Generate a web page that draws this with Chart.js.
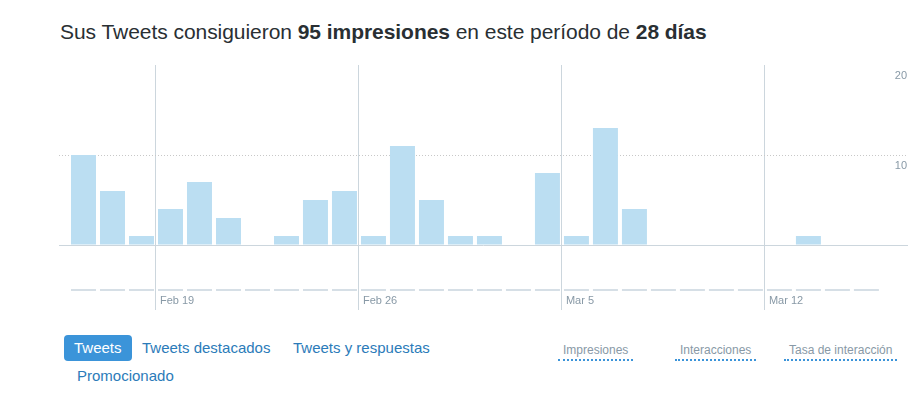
<!DOCTYPE html>
<html>
<head>
<meta charset="utf-8">
<script src="https://cdn.jsdelivr.net/npm/chart.js@4.4.1/dist/chart.umd.min.js"></script>
<style>
  html, body { margin: 0; padding: 0; background: #fff; }
  body { width: 916px; height: 397px; position: relative; overflow: hidden;
         font-family: "Liberation Sans", Arial, sans-serif; }
  #chart-box { position: absolute; left: 0; top: 0; width: 916px; height: 320px; }
  .title { position: absolute; left: 60px; top: 20px; font-size: 21px; line-height: 24px;
           color: #292f33; white-space: nowrap; letter-spacing: -0.05px; }
  .title b { font-weight: bold; }
  .tab { position: absolute; font-size: 15px; line-height: 26px; height: 26px; color: #2b7bb9;
         white-space: nowrap; }
  .tab.active { background: #3b94d9; color: #fff; border-radius: 4px; padding: 0 10px; }
  .metric { position: absolute; top: 343px; font-size: 12px; line-height: 14px; color: #8899a6;
            padding: 0 5px 2px 5px; border-bottom: 2px dotted #3b94d9; white-space: nowrap; }
</style>
</head>
<body>
<div class="title">Sus Tweets consiguieron <b>95 impresiones</b> en este período de <b>28 días</b></div>
<div id="chart-box"><canvas id="impressionsChart" width="916" height="320"></canvas></div>
<div class="tab active" style="left:64px;top:335px;">Tweets</div>
<div class="tab" style="left:142px;top:335px;">Tweets destacados</div>
<div class="tab" style="left:293px;top:335px;">Tweets y respuestas</div>
<div class="tab" style="left:77px;top:363px;">Promocionado</div>
<div class="metric" style="left:558px;">Impresiones</div>
<div class="metric" style="left:675px;">Interacciones</div>
<div class="metric" style="left:784px;">Tasa de interacción</div>

<script>
const days = [
  "Feb 16", "Feb 17", "Feb 18", "Feb 19", "Feb 20", "Feb 21", "Feb 22",
  "Feb 23", "Feb 24", "Feb 25", "Feb 26", "Feb 27", "Feb 28", "Mar 1",
  "Mar 2", "Mar 3", "Mar 4", "Mar 5", "Mar 6", "Mar 7", "Mar 8",
  "Mar 9", "Mar 10", "Mar 11", "Mar 12", "Mar 13", "Mar 14", "Mar 15",
];
const impressions = [
  10, 6, 1, 4, 7, 3, 0,
  1, 5, 6, 1, 11, 5, 1,
  1, 0, 8, 1, 13, 4, 0,
  0, 0, 0, 0, 1, 0, 0,
];
const promoted = [
  0, 0, 0, 0, 0, 0, 0,
  0, 0, 0, 0, 0, 0, 0,
  0, 0, 0, 0, 0, 0, 0,
  0, 0, 0, 0, 0, 0, 0,
];
const dateTicks = ["Feb 19", "Feb 26", "Mar 5", "Mar 12"];
const yTicks = [10, 20];

Chart.defaults.font.family = '"Liberation Sans", Arial, sans-serif';

function renderChart() {
  const barStyle = {
    grouped: false,
    categoryPercentage: 1,
    barPercentage: 25 / 29,
  };
  const config = {
    type: "bar",
    data: {
      datasets: [
        {
          label: "Impresiones",
          data: impressions.map((v, i) => ({ x: i, y: v })),
          backgroundColor: "#bbdef2",
          yAxisID: "y",
          ...barStyle,
        },
        {
          label: "Promocionado",
          data: promoted.map((v, i) => ({ x: i, y: v })),
          backgroundColor: "#d6dfe6",
          yAxisID: "yLow",
          minBarLength: 2,
          ...barStyle,
        },
      ],
    },
    options: {
      responsive: false,
      animation: false,
      layout: { padding: { left: 59, right: 9, top: 65, bottom: 10 } },
      plugins: { legend: { display: false }, tooltip: { enabled: false } },
      scales: {
        x: {
          type: "linear",
          position: { y: -5 },
          offset: false,
          min: -0.845,
          max: 28.4,
          afterBuildTicks: (axis) => {
            axis.ticks = dateTicks.map((d) => ({ value: days.indexOf(d) - 0.5 }));
          },
          grid: { offset: false, drawTicks: false, color: "#ccd6dd" },
          border: { display: false },
          ticks: {
            autoSkip: false,
            maxRotation: 0,
            align: "start",
            labelOffset: 4,
            padding: 4,
            color: "#8899a6",
            font: { size: 11 },
            callback: (value) => days[value + 0.5],
          },
        },
        xBase: {
          type: "linear",
          position: { y: 0 },
          offset: false,
          grid: { offset: false, drawOnChartArea: false, drawTicks: false },
          ticks: { display: false },
          border: { color: "#ccd6dd", width: 1 },
        },
        y: {
          position: "right",
          min: -7.22,
          max: 20,
          afterBuildTicks: (axis) => {
            axis.ticks = [0, ...yTicks].map((v) => ({ value: v }));
          },
          grid: {
            drawTicks: false,
            color: (ctx) => (ctx.tick && ctx.tick.value === yTicks[0] ? "#c8c8c8" : "rgba(0,0,0,0)"),
          },
          border: { display: false, dash: [1, 2] },
          ticks: {
            mirror: true,
            padding: 0,
            labelOffset: 11,
            color: "#8899a6",
            font: { size: 11 },
            callback: (value) => (yTicks.includes(value) ? String(value) : ""),
          },
        },
        yLow: {
          display: false,
          min: -1,
          max: 11.25,
        },
      },
    },
  };
  const ctx = document.getElementById("impressionsChart").getContext("2d");
  return new Chart(ctx, config);
}

renderChart();
</script>
</body>
</html>
